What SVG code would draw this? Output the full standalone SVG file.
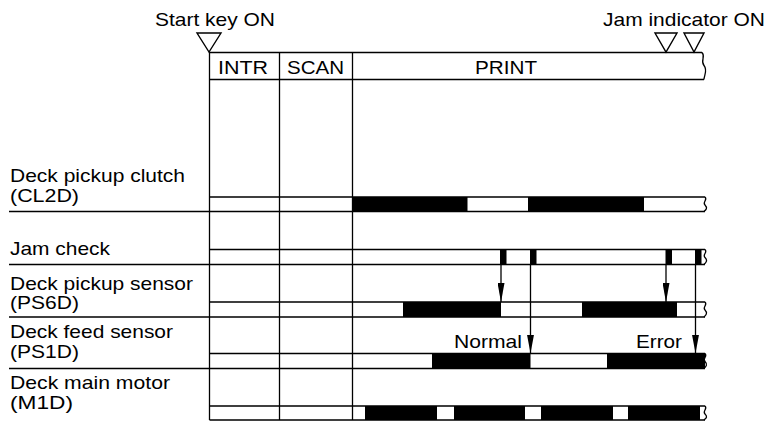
<svg xmlns="http://www.w3.org/2000/svg" width="769" height="423" viewBox="0 0 769 423">
<style>
.ln{stroke:#000;stroke-width:1.3;fill:none}
.tri{stroke:#000;stroke-width:1.4;fill:#fff}
.t{font-family:"Liberation Sans",Arial,sans-serif;font-size:19px;fill:#000}
.blk{fill:#000}
</style>
<defs>
<marker id="ah" viewBox="0 0 19 7" refX="19" refY="3.5" markerWidth="19" markerHeight="7" markerUnits="userSpaceOnUse" orient="auto">
<path d="M0,0 L19,3.5 L0,7 z" fill="#000"/>
</marker>
</defs>
<rect width="769" height="423" fill="#fff"/>

<g id="events">
<text class="t" x="155" y="26" textLength="120" lengthAdjust="spacingAndGlyphs">Start key ON</text>
<polygon class="tri" points="197,33 221,33 209,52"/>
<text class="t" x="603" y="26" textLength="162" lengthAdjust="spacingAndGlyphs">Jam indicator ON</text>
<polygon class="tri" points="655,33 677,33 666,52"/>
<polygon class="tri" points="684,33 704,33 694,52"/>
</g>

<g id="header">
<path class="ln" d="M209.5,52.5 H702 M209.5,79.5 H704"/>
<path class="ln" d="M702,52.5 c4,4 -2,8 2,13 c4,5 0,10 0,14"/>
<text class="t" x="218" y="74" textLength="50" lengthAdjust="spacingAndGlyphs">INTR</text>
<text class="t" x="287" y="74" textLength="57" lengthAdjust="spacingAndGlyphs">SCAN</text>
<text class="t" x="475" y="74" textLength="62" lengthAdjust="spacingAndGlyphs">PRINT</text>
</g>

<g id="grid">
<path class="ln" d="M209.5,52 V420 M279.5,52 V420 M352.5,52 V420"/>
</g>

<g id="row-cl2d">
<text class="t" x="10" y="182" textLength="175" lengthAdjust="spacingAndGlyphs">Deck pickup clutch</text>
<text class="t" x="10" y="202" textLength="69" lengthAdjust="spacingAndGlyphs">(CL2D)</text>
<rect class="blk" x="352.5" y="197" width="115" height="14.5"/>
<rect class="blk" x="528" y="197" width="116" height="14.5"/>
<path class="ln" d="M209.5,197 H705 M9,211.5 H705"/>
<path class="ln" d="M705,197 c3,3 -3,5 0,8 c3,3 1,5 -1,6.5"/>
</g>

<g id="row-jam">
<text class="t" x="10" y="255" textLength="100" lengthAdjust="spacingAndGlyphs">Jam check</text>
<rect class="blk" x="500" y="249.5" width="6.5" height="15"/>
<rect class="blk" x="530" y="249.5" width="6.5" height="15"/>
<rect class="blk" x="665.5" y="249.5" width="6.5" height="15"/>
<rect class="blk" x="695" y="249.5" width="6.5" height="15"/>
<path class="ln" d="M209.5,249.5 H705 M9,264.5 H705"/>
<path class="ln" d="M705,249.5 c3,3 -3,5 0,8 c3,3 1,5 -1,7"/>
</g>

<g id="row-ps6d">
<text class="t" x="10" y="290" textLength="183" lengthAdjust="spacingAndGlyphs">Deck pickup sensor</text>
<text class="t" x="10" y="309" textLength="69" lengthAdjust="spacingAndGlyphs">(PS6D)</text>
<rect class="blk" x="403" y="302" width="98" height="15"/>
<rect class="blk" x="582" y="302" width="95" height="15"/>
<path class="ln" d="M209.5,302 H705 M9,317 H705"/>
<path class="ln" d="M705,302 c3,3 -3,5 0,8 c3,3 1,5 -1,7"/>
</g>

<g id="row-ps1d">
<text class="t" x="10" y="338" textLength="163" lengthAdjust="spacingAndGlyphs">Deck feed sensor</text>
<text class="t" x="10" y="358" textLength="69" lengthAdjust="spacingAndGlyphs">(PS1D)</text>
<text class="t" x="454" y="348" textLength="68" lengthAdjust="spacingAndGlyphs">Normal</text>
<text class="t" x="636" y="348" textLength="46" lengthAdjust="spacingAndGlyphs">Error</text>
<rect class="blk" x="432" y="353.5" width="98.5" height="15"/>
<rect class="blk" x="607" y="353.5" width="98" height="15"/>
<path class="ln" d="M209.5,353.5 H705 M9,368.5 H705"/>
<path class="ln" d="M705,353.5 c3,3 -3,5 0,8 c3,3 1,5 -1,7"/>
</g>

<g id="row-m1d">
<text class="t" x="10" y="388.5" textLength="160" lengthAdjust="spacingAndGlyphs">Deck main motor</text>
<text class="t" x="10" y="408.5" textLength="63" lengthAdjust="spacingAndGlyphs">(M1D)</text>
<rect class="blk" x="365" y="406" width="72" height="14"/>
<rect class="blk" x="454" y="406" width="71" height="14"/>
<rect class="blk" x="541" y="406" width="72" height="14"/>
<rect class="blk" x="628" y="406" width="72" height="14"/>
<path class="ln" d="M209.5,406 H705 M209.5,420 H705"/>
<path class="ln" d="M705,406 c3,3 -3,5 0,8 c3,3 1,4 -1,6"/>
</g>

<g id="connectors">
<line class="ln" x1="501" y1="264.5" x2="501" y2="302" marker-end="url(#ah)"/>
<line class="ln" x1="530.5" y1="264.5" x2="530.5" y2="353.5" marker-end="url(#ah)"/>
<line class="ln" x1="666" y1="264.5" x2="666" y2="302" marker-end="url(#ah)"/>
<line class="ln" x1="695.5" y1="264.5" x2="695.5" y2="353.5" marker-end="url(#ah)"/>
</g>
</svg>
